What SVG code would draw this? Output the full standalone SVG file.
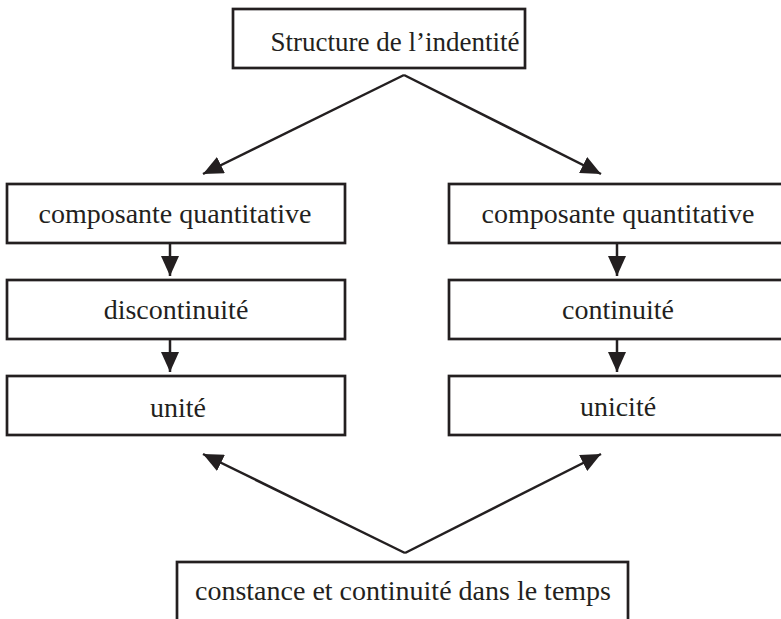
<svg xmlns="http://www.w3.org/2000/svg" width="781" height="619" viewBox="0 0 781 619">
<style>
.box{fill:#fff;stroke:#231f20;stroke-width:2.7}
.lbl{font-family:"Liberation Serif","DejaVu Serif",serif;font-size:28px;fill:#231f20;text-anchor:middle}
.conn{stroke:#231f20;stroke-width:2.5;fill:none;marker-end:url(#ah)}
</style>
<defs>
<marker id="ah" markerUnits="userSpaceOnUse" markerWidth="20" markerHeight="18" viewBox="0 0 20 18" refX="20" refY="9" orient="auto">
<path d="M0,0 L20,9 L0,18 z" fill="#231f20"/>
</marker>
</defs>
<rect width="781" height="619" fill="#fff"/>
<g id="connectors">
<path class="conn" d="M404,75 L203,174"/>
<path class="conn" d="M404,75 L601,174"/>
<path class="conn" d="M170,243 L170,276"/>
<path class="conn" d="M170,339 L170,372"/>
<path class="conn" d="M617,243 L617,276"/>
<path class="conn" d="M617,339 L617,372"/>
<path class="conn" d="M405,553 L203,454"/>
<path class="conn" d="M405,553 L601,454"/>
</g>
<g id="n-structure">
<rect class="box" x="233" y="9" width="292" height="59"/>
<text class="lbl" x="395" y="51" style="font-size:27px">Structure de l’indentité</text>
</g>
<g id="n-comp-left">
<rect class="box" x="7" y="184" width="338" height="59"/>
<text class="lbl" x="175" y="223">composante quantitative</text>
</g>
<g id="n-discontinuite">
<rect class="box" x="7" y="280" width="338" height="59"/>
<text class="lbl" x="176" y="319">discontinuité</text>
</g>
<g id="n-unite">
<rect class="box" x="7" y="376" width="338" height="59"/>
<text class="lbl" x="178" y="417">unité</text>
</g>
<g id="n-comp-right">
<rect class="box" x="449" y="184" width="340" height="59"/>
<text class="lbl" x="618" y="223">composante quantitative</text>
</g>
<g id="n-continuite">
<rect class="box" x="449" y="280" width="340" height="59"/>
<text class="lbl" x="618" y="319">continuité</text>
</g>
<g id="n-unicite">
<rect class="box" x="449" y="376" width="340" height="59"/>
<text class="lbl" x="618" y="416">unicité</text>
</g>
<g id="n-constance">
<rect class="box" x="177" y="562" width="451" height="70"/>
<text class="lbl" x="403" y="600">constance et continuité dans le temps</text>
</g>
</svg>
